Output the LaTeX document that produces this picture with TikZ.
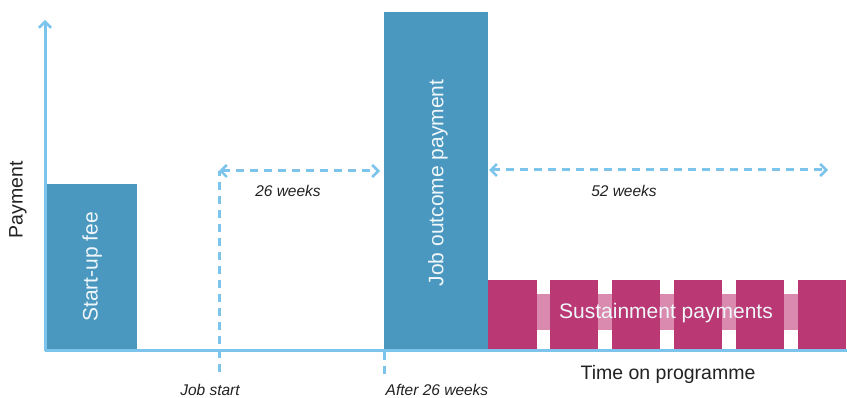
\documentclass[tikz,border=0pt]{standalone}
\usepackage{fontspec}
\setmainfont{Liberation Sans}
\usetikzlibrary{arrows.meta,patterns}
\definecolor{axisblue}{HTML}{7DC4EC}
\definecolor{barblue}{HTML}{4A98C0}
\definecolor{barpink}{HTML}{BA3873}
\definecolor{linkpink}{HTML}{D98AAE}
\definecolor{labelgray}{HTML}{222222}
\tikzset{
  barbtip/.tip={Straight Barb[length=6pt,width=12pt,line width=2.6pt]},
  axisline/.style={draw=axisblue, line width=3pt},
  dashline/.style={draw=axisblue, line width=3pt, dash pattern=on 8pt off 6pt},
  barb/.style={arrows={barbtip-barbtip}},
  bluebar/.style={fill=barblue, draw=none, inner sep=0pt, anchor=north west},
  pinkbar/.style={fill=barpink, draw=none, inner sep=0pt, anchor=north west, minimum width=48.5pt, minimum height=69pt},
  pinklink/.style={fill=linkpink, draw=none, inner sep=0pt, anchor=north west, minimum width=13.5pt, minimum height=36pt},
  bartext/.style={text=white!92!barblue, font=\fontsize{21}{24}\selectfont, inner sep=0pt},
  weeks/.style={text=labelgray, font=\fontsize{15.5}{18}\selectfont\itshape, inner sep=0pt},
  axistext/.style={text=labelgray, font=\fontsize{19.5}{22}\selectfont, inner sep=0pt},
}
\begin{document}
\begin{tikzpicture}[x=1pt, y=-1pt]
\useasboundingbox[fill=white] (0,0) rectangle (847,398);

% payment bars
\node[bluebar, minimum width=90pt, minimum height=165pt] (startup) at (47,184) {};
\node[bluebar, minimum width=104pt, minimum height=337pt] (outcome) at (384,12) {};

% sustainment payments: links behind, blocks on top
\foreach \i/\x in {1/536,2/598,3/660,4/722,5/784}
  \node[pinklink] (link\i) at (\x,293.5) {};
\foreach \i/\x in {1/488,2/549.5,3/611.5,4/673.5,5/735.5,6/797.5}
  \node[pinkbar] (sus\i) at (\x,280) {};

\node[bartext, rotate=90] (startuptxt) at (startup.center) {Start-up fee};
\node[bartext, rotate=90] (outcometxt) at (438,183) {Job outcome payment};
\node[bartext] (sustxt) at (666,313) {Sustainment payments};

% axes
\coordinate (origin) at (45,351);
\coordinate (ytop) at (45,20);
\coordinate (xend) at (847,351);
\draw[axisline, -barbtip] (origin) -- (ytop);
\draw[axisline] (origin) -- (xend);

% time markers
\coordinate (jsbot) at (219,372);
\coordinate (jstop) at (219,171);
\coordinate (end26) at (380,171);
\coordinate (afterbot) at (384,378);
\coordinate (aftertop) at (384,352);
\coordinate (start52) at (489,170);
\coordinate (end52) at (828,170);
\draw[dashline] (jsbot) -- (jstop);
\draw[dashline, barb] (jstop) -- (end26);
\draw[dashline] (aftertop) -- (afterbot);
\draw[dashline, barb] (start52) -- (end52);

% labels
\node[weeks] (w26) at (288,191) {26 weeks};
\node[weeks] (w52) at (624,191) {52 weeks};
\node[weeks] (jobstart) at (210,390) {Job start};
\node[weeks] (after26) at (437,390) {After 26 weeks};
\node[axistext] (timeaxis) at (668,374) {Time on programme};
\node[axistext, rotate=90] (payaxis) at (18,200) {Payment};
\end{tikzpicture}
\end{document}
